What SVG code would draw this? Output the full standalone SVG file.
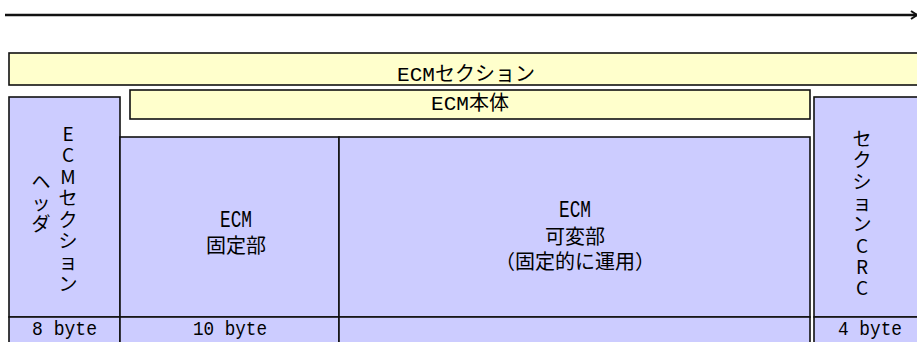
<svg xmlns="http://www.w3.org/2000/svg" width="917" height="342" viewBox="0 0 917 342">
<style>
  .y { fill: #FFFFCC; stroke: #111; stroke-width: 1.6; }
  .b { fill: #CCCCFF; stroke: #111; stroke-width: 1.6; }
  text { font-family: "Liberation Mono", "Noto Sans CJK JP", monospace; font-size: 21px; fill: #000; text-anchor: middle; }
  .l { font-size: 23px; }
  .j { font-family: "Noto Sans CJK JP", sans-serif; font-size: 20px; }
  .v { font-family: "Noto Sans CJK JP", sans-serif; font-size: 19px; }
</style>
<defs>
  <marker id="ah" markerWidth="10" markerHeight="10" refX="8" refY="5" orient="auto" markerUnits="userSpaceOnUse">
    <path d="M2,1 L8,5 L2,9" fill="none" stroke="#111" stroke-width="2"/>
  </marker>
</defs>
<rect width="917" height="342" fill="#fff"/>
<g id="connectors">
  <line x1="5" y1="15" x2="917" y2="15" stroke="#111" stroke-width="2.5" marker-end="url(#ah)"/>
</g>
<g id="ecm-section">
  <rect class="y" x="9" y="53" width="920" height="32"/>
  <text x="466" y="81" font-size="20">ECM<tspan class="j" font-size="21">セクション</tspan></text>
</g>
<g id="ecm-body">
  <rect class="y" x="130" y="90" width="680" height="29"/>
  <text x="470" y="110" font-size="20">ECM<tspan class="j">本体</tspan></text>
</g>
<g id="ecm-section-header">
  <rect class="b" x="9" y="97" width="111" height="220"/>
  <text class="v" x="68 68 68 68 68 68 68 68" y="141 162 184 205 227 248 269 291">ECMセクション</text>
  <text class="v" x="41 41 41" y="189 210 231">ヘッダ</text>
</g>
<g id="ecm-fixed">
  <rect class="b" x="120" y="137" width="219" height="180"/>
  <text class="l" x="236" y="227" textLength="32" lengthAdjust="spacingAndGlyphs">ECM</text>
  <text x="236" y="253" class="j">固定部</text>
</g>
<g id="ecm-variable">
  <rect class="b" x="339" y="137" width="471" height="180"/>
  <text class="l" x="575" y="217" textLength="32" lengthAdjust="spacingAndGlyphs">ECM</text>
  <text x="575" y="244" class="j">可変部</text>
  <text x="575" y="269" class="j">（固定的に運用）</text>
</g>
<g id="section-crc">
  <rect class="b" x="814" y="97" width="115" height="220"/>
  <text class="v" x="862 862 862 862 862 862 862 862" y="146 167 189 210 231 253 274 295">セクションCRC</text>
</g>
<g id="size-header">
  <rect class="b" x="9" y="317" width="111" height="40"/>
  <text x="64.5" y="335" textLength="65" lengthAdjust="spacingAndGlyphs">8 byte</text>
</g>
<g id="size-fixed">
  <rect class="b" x="120" y="317" width="219" height="40"/>
  <text x="230" y="335" textLength="74" lengthAdjust="spacingAndGlyphs">10 byte</text>
</g>
<g id="size-variable">
  <rect class="b" x="339" y="317" width="471" height="40"/>
</g>
<g id="size-crc">
  <rect class="b" x="814" y="317" width="115" height="40"/>
  <text x="870" y="335" textLength="64" lengthAdjust="spacingAndGlyphs">4 byte</text>
</g>
</svg>
